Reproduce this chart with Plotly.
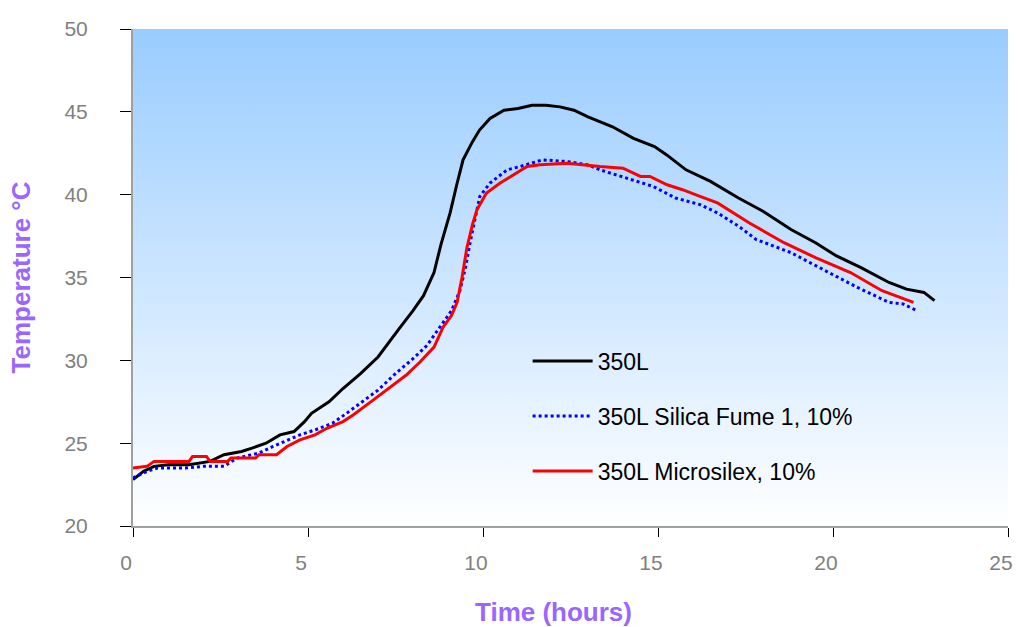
import plotly.graph_objects as go

# Data
t_350L = [0, 0.3, 0.6, 1.0, 1.6, 2.2, 2.6, 3.1, 3.4, 3.8, 4.2, 4.6, 4.9, 5.1, 5.6, 6.0, 6.5, 7.0, 7.6, 8.0,
          8.3, 8.6, 8.8, 9.06, 9.25, 9.43, 9.7, 9.9, 10.2, 10.6, 11.0, 11.4, 11.8, 12.2, 12.6, 13.0, 13.7,
          14.3, 14.9, 15.25, 15.8, 16.5, 17.3, 18.0, 18.8, 19.5, 20.1, 20.8, 21.6, 22.1, 22.6, 22.9]
y_350L = [22.8, 23.3, 23.6, 23.7, 23.7, 23.9, 24.3, 24.5, 24.7, 25.0, 25.5, 25.7, 26.3, 26.8, 27.5, 28.3,
          29.2, 30.2, 31.9, 33.0, 33.9, 35.3, 37.0, 38.9, 40.6, 42.1, 43.2, 43.9, 44.6, 45.1, 45.2, 45.4,
          45.4, 45.3, 45.1, 44.7, 44.1, 43.4, 42.9, 42.4, 41.5, 40.8, 39.8, 39.0, 37.9, 37.1, 36.3, 35.6,
          34.7, 34.3, 34.1, 33.6]

t_sf = [0, 0.4, 0.7, 1.5, 2.0, 2.6, 2.97, 3.6, 4.0, 4.77, 5.2, 5.7, 6.1, 6.5, 7.0, 7.5, 8.0, 8.4, 8.77,
        9.1, 9.34, 9.5, 9.63, 9.8, 9.91, 10.2, 10.69, 11.06, 11.7, 12.4, 13.0, 13.34, 14.1, 14.86, 15.5,
        16.2, 16.7, 17.3, 17.8, 18.8, 19.7, 20.7, 21.6, 22.0, 22.4]
y_sf = [22.9, 23.3, 23.5, 23.5, 23.6, 23.6, 24.1, 24.4, 24.8, 25.5, 25.8, 26.2, 26.8, 27.4, 28.2, 29.2,
        30.1, 30.9, 32.0, 33.0, 34.2, 35.6, 37.1, 38.8, 39.9, 40.7, 41.5, 41.7, 42.1, 42.0, 41.8, 41.5,
        41.0, 40.5, 39.8, 39.4, 38.9, 38.1, 37.3, 36.5, 35.5, 34.4, 33.5, 33.4, 33.0]

t_ms = [0, 0.4, 0.6, 1.6, 1.7, 2.1, 2.2, 2.7, 2.8, 3.5, 3.6, 4.1, 4.4, 4.77, 5.2, 5.54, 6.0, 6.29, 6.86,
        7.3, 7.8, 8.2, 8.6, 8.86, 9.1, 9.26, 9.4, 9.54, 9.7, 9.83, 10.1, 10.49, 10.86, 11.26, 11.63, 12.4,
        13.34, 14.0, 14.5, 14.77, 15.26, 15.7, 16.2, 16.7, 17.6, 18.6, 19.5, 20.5, 21.4, 22.3]
y_ms = [23.5, 23.6, 23.9, 23.9, 24.2, 24.2, 23.9, 23.9, 24.1, 24.1, 24.3, 24.3, 24.8, 25.2, 25.5, 25.9,
        26.3, 26.7, 27.6, 28.3, 29.1, 29.9, 30.8, 32.0, 32.7, 33.5, 35.0, 36.8, 38.2, 39.1, 40.1, 40.7,
        41.2, 41.7, 41.8, 41.9, 41.7, 41.6, 41.1, 41.1, 40.6, 40.3, 39.9, 39.5, 38.3, 37.1, 36.2, 35.3,
        34.2, 33.5]

names = ["350L", "350L Silica Fume 1, 10%", "350L Microsilex, 10%"]
x_range = [0, 25]
y_range = [20, 50]
x_ticks = [0, 5, 10, 15, 20, 25]
y_ticks = [20, 25, 30, 35, 40, 45, 50]

font_family = "Liberation Sans, Arial, sans-serif"
purple = "#9966FF"

fig = go.Figure()

# gradient plot-area background
fig.add_trace(go.Scatter(
    x=[x_range[0], x_range[1], x_range[1], x_range[0], x_range[0]],
    y=[y_range[0], y_range[0], y_range[1], y_range[1], y_range[0]],
    fill="toself", mode="lines", line=dict(width=0),
    fillgradient=dict(type="vertical", colorscale=[[0, "#FFFFFF"], [1, "#99CCFF"]]),
    showlegend=False, hoverinfo="skip"))

fig.add_trace(go.Scatter(x=t_350L, y=y_350L, mode="lines", name=names[0], legendgroup="a",
                         line=dict(color="black", width=3)))
fig.add_trace(go.Scatter(x=t_sf, y=y_sf, mode="lines", name=names[1], legendgroup="b",
                         line=dict(color="#0000FF", width=3, dash="dot")))
fig.add_trace(go.Scatter(x=t_ms, y=y_ms, mode="lines", name=names[2], legendgroup="c",
                         line=dict(color="#FF0000", width=3)))

fig.update_layout(
    width=1018, height=627,
    margin=dict(l=133, r=10, t=29, b=101),
    paper_bgcolor="white", plot_bgcolor="white",
    font=dict(family=font_family, size=21, color="#808080"),
    showlegend=True,
    legend=dict(x=0.451, y=0.375, xanchor="left", yanchor="top", bgcolor="rgba(0,0,0,0)",
                font=dict(size=23, color="black", family=font_family),
                itemwidth=60, tracegroupgap=22, traceorder="grouped"),
    xaxis=dict(range=x_range, tickvals=x_ticks, showgrid=False, zeroline=False,
               showline=True, linecolor="#A0A0A0", linewidth=2,
               ticks="outside", ticklen=9, tickcolor="black", tickwidth=1,
               tickfont=dict(size=21, color="#808080"), ticklabelstandoff=8,
               ticklabelshift=-7, automargin=False),
    yaxis=dict(range=y_range, tickvals=y_ticks, showgrid=False, zeroline=False,
               showline=True, linecolor="#A0A0A0", linewidth=2,
               ticks="outside", ticklen=11, tickcolor="black", tickwidth=1,
               tickfont=dict(size=21, color="#808080"), ticklabelstandoff=28, automargin=False,
               title=dict(text="<b>Temperature °C</b>", font=dict(size=26, color=purple), standoff=26)),
    annotations=[dict(text="<b>Time (hours)</b>", xref="paper", yref="paper",
                      x=0.48, y=-0.173, xanchor="center", yanchor="middle", showarrow=False,
                      font=dict(size=26, color=purple, family=font_family))],
)

fig.write_html("out.html")
